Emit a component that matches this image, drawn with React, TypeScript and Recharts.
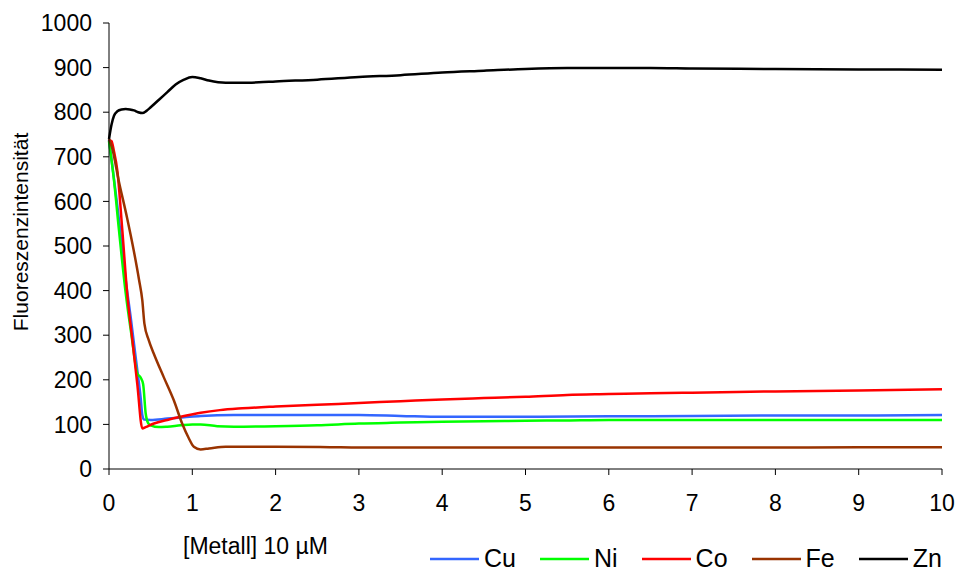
import React from "react";
import { LineChart, Line, XAxis, YAxis, Legend } from "recharts";

// ---- data ----
const xTicks = [0, 1, 2, 3, 4, 5, 6, 7, 8, 9, 10];
const yTicks = [0, 100, 200, 300, 400, 500, 600, 700, 800, 900, 1000];

const cuX = [0, 0.05, 0.1, 0.15, 0.2, 0.26, 0.34, 0.38, 0.4, 0.42, 0.5, 0.7, 0.9, 1.1, 1.5, 2, 2.5, 3, 3.5, 4, 5, 6, 7, 8, 9, 10];
const cuY = [738, 665, 590, 510, 425, 341, 221, 160, 121, 111, 110, 113, 116, 119, 121, 121, 121, 121, 119, 117, 117, 118, 119, 120, 120, 121];

const niX = [0, 0.06, 0.12, 0.2, 0.27, 0.34, 0.38, 0.41, 0.44, 0.47, 0.5, 0.6, 0.7, 0.86, 1.0, 1.1, 1.3, 1.5, 2, 2.5, 3, 3.5, 4, 4.5, 5, 5.5, 6, 7, 8, 9, 10];
const niY = [735, 647, 535, 395, 300, 214, 205, 190, 125, 103, 98, 94, 95, 98, 100, 100, 96, 95, 96, 98, 102, 104, 106, 107, 108, 109, 110, 110, 110, 110, 110];

const coX = [0, 0.03, 0.06, 0.1, 0.16, 0.22, 0.28, 0.34, 0.4, 0.44, 0.54, 0.7, 0.86, 1.1, 1.33, 1.6, 2, 2.5, 3, 3.5, 4, 4.5, 5, 5.5, 6, 6.5, 7, 8, 9, 10];
const coY = [738, 735, 712, 669, 535, 390, 290, 190, 91, 94, 102, 110, 117, 126, 132, 136, 140, 144, 148, 152, 156, 159, 162, 166, 168, 170, 171, 174, 176, 179];

const feX = [0, 0.036, 0.116, 0.216, 0.297, 0.36, 0.4, 0.425, 0.477, 0.537, 0.657, 0.778, 0.878, 0.958, 1.018, 1.1, 1.2, 1.4, 2, 2.65, 3, 4, 5, 6, 7, 8, 9, 10];
const feY = [740, 721, 647, 564, 490, 425, 378, 326, 289, 259, 206, 154, 102, 69, 50, 44, 46, 50, 50, 49, 48, 48, 48, 48, 48, 48, 48.5, 48.5];

const znX = [0, 0.03, 0.06, 0.1, 0.15, 0.2, 0.25, 0.3, 0.35, 0.4, 0.45, 0.5, 0.6, 0.7, 0.8, 0.9, 1.0, 1.1, 1.2, 1.4, 1.6, 1.8, 2, 2.5, 3, 3.5, 4, 4.5, 5, 5.5, 6, 6.5, 7, 8, 9, 10];
const znY = [740, 772, 792, 802, 806, 807, 806, 804, 800, 798, 803, 811, 828, 845, 862, 873, 879, 876, 871, 866, 866, 867, 869, 873, 879, 883, 889, 893, 897, 899, 899, 899, 898, 897, 896, 895];

const seriesNames = ["Cu", "Ni", "Co", "Fe", "Zn"];
const seriesColors = ["#3366FF", "#00FF00", "#FF0000", "#993300", "#000000"];
const seriesXs = [cuX, niX, coX, feX, znX];
const seriesYs = [cuY, niY, coY, feY, znY];

const yTitle = "Fluoreszenzintensität";
const xTitle = "[Metall] 10 µM";

const FONT = "'Liberation Sans', Arial, sans-serif";

const series = seriesNames.map((name, i) => ({
  name,
  color: seriesColors[i],
  data: seriesXs[i].map((x, j) => ({ x, y: seriesYs[i][j] })),
}));

const LegendContent = () => (
  <div style={{ display: "flex", alignItems: "center", fontFamily: FONT, fontSize: 25, color: "#000", whiteSpace: "nowrap" }}>
    {series.map((s) => (
      <div key={s.name} style={{ display: "flex", alignItems: "center", marginRight: 24 }}>
        <svg width={49} height={6} style={{ marginRight: 5 }}>
          <line x1={0} y1={3} x2={49} y2={3} stroke={s.color} strokeWidth={2.5} />
        </svg>
        <span>{s.name}</span>
      </div>
    ))}
  </div>
);

const YTitle = () => (
  <text x={20} y={232} transform="rotate(-90, 20, 232)" textAnchor="middle" dominantBaseline="central" fontFamily={FONT} fontSize={21} fill="#000">
    {yTitle}
  </text>
);

const XTitle = () => (
  <text x={183} y={554} textAnchor="start" fontFamily={FONT} fontSize={23} fill="#000">
    {xTitle}
  </text>
);

export default function App() {
  return (
    <div style={{ position: "absolute", left: 0, top: 0, width: 957, height: 572, background: "#fff" }}>
      <LineChart width={957} height={572} margin={{ top: 23, right: 15, bottom: 0, left: 0 }}>
        <XAxis
          type="number"
          dataKey="x"
          domain={[0, 10]}
          ticks={xTicks}
          height={103}
          allowDuplicatedCategory={false}
          stroke="#000"
          tickSize={6}
          tickMargin={20}
          tick={{ fontFamily: FONT, fontSize: 23, fill: "#000" }}
          label={<XTitle />}
        />
        <YAxis
          type="number"
          domain={[0, 1000]}
          ticks={yTicks}
          width={109}
          stroke="#000"
          tickSize={6}
          tickMargin={11}
          tick={{ fontFamily: FONT, fontSize: 23, fill: "#000" }}
          label={<YTitle />}
        />
        {series.map((s) => (
          <Line
            key={s.name}
            data={s.data}
            dataKey="y"
            name={s.name}
            type="monotone"
            stroke={s.color}
            strokeWidth={2.5}
            dot={false}
            activeDot={false}
            isAnimationActive={false}
          />
        ))}
        <Legend
          layout="horizontal"
          verticalAlign="middle"
          align="center"
          content={<LegendContent />}
          wrapperStyle={{ top: 544, left: 430, width: 540, height: 30 }}
        />
      </LineChart>
    </div>
  );
}
